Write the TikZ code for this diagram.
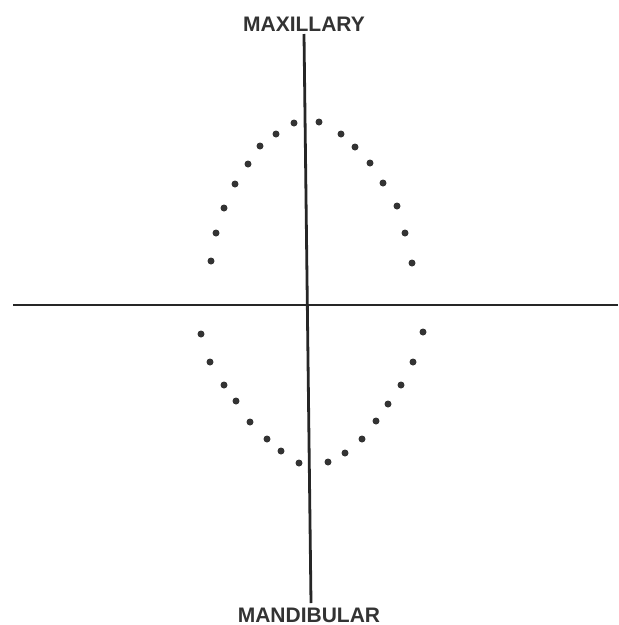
\documentclass[tikz,border=0pt]{standalone}
\usepackage{fontspec}
\setmainfont{Liberation Sans}
\begin{document}
\begin{tikzpicture}[x=1pt,y=-1pt,
  axis/.style={line width=2.8pt,black!85},
  tooth/.style={circle,fill=black!80,inner sep=0pt,minimum size=7pt},
  lbl/.style={font=\fontsize{21}{21}\selectfont\bfseries,inner sep=0pt,text=black!80}]
\useasboundingbox (0,0) rectangle (619,625);
% axes
\coordinate (vt) at (304,34);
\coordinate (vb) at (311,603);
\coordinate (hl) at (13,305);
\coordinate (hr) at (618,305);
\draw[axis] (hl) -- (hr);
\draw[axis] (vt) -- (vb);
% labels
\node[lbl,anchor=base] (max) at (304,31) {MAXILLARY};
\node[lbl,anchor=base] (man) at (309,622) {MANDIBULAR};
% maxillary arch
\foreach \x/\y [count=\i] in {294/123,276/134,260/146,248/164,235/184,224/208,216/233,211/261,
  319/122,341/134,355/147,370/163,383/183,397/206,405/233,412/263}
  \node[tooth] (u\i) at (\x,\y) {};
% mandibular arch
\foreach \x/\y [count=\i] in {201/334,210/362,224/385,236/401,250/422,267/439,281/451,299/463,
  423/332,413/362,401/385,388/404,376/421,362/439,345/453,328/462}
  \node[tooth] (l\i) at (\x,\y) {};
\end{tikzpicture}
\end{document}
